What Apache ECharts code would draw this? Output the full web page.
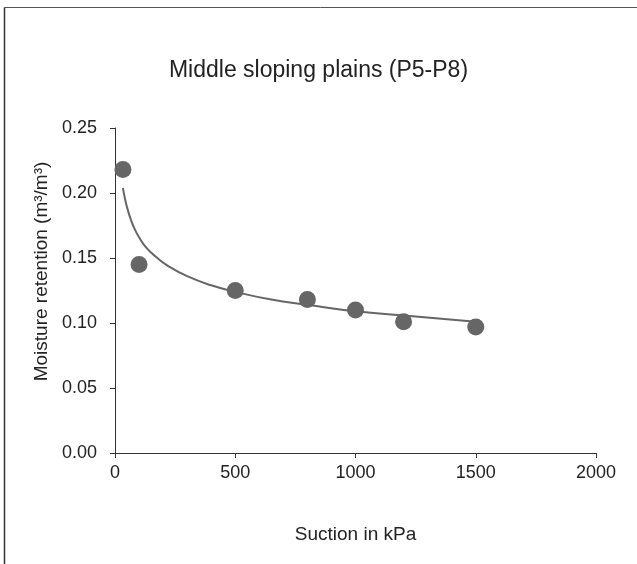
<!DOCTYPE html>
<html>
<head>
<meta charset="utf-8">
<script src="https://cdn.jsdelivr.net/npm/echarts@6/dist/echarts.min.js"></script>
<style>
  html, body { margin: 0; padding: 0; background: #fff; }
  #chart { width: 637px; height: 564px; }
</style>
</head>
<body>
<div id="chart"></div>
<script>
// measured points (suction kPa, moisture m3/m3)
var suction = [33, 100, 500, 800, 1000, 1200, 1500];
var moisture = [0.218, 0.145, 0.125, 0.118, 0.110, 0.101, 0.097];

// fitted curve
var curveX = [33, 40, 50, 65, 80, 100, 130, 170, 220, 300, 400, 500, 650, 800, 1000, 1250, 1500];
var curveY = [0.204, 0.197, 0.189, 0.180, 0.173, 0.166, 0.158, 0.151, 0.144, 0.136, 0.129, 0.124, 0.118, 0.114, 0.109, 0.105, 0.101];

var xTicks = [0, 500, 1000, 1500, 2000];
var yTicks = [0, 0.05, 0.10, 0.15, 0.20, 0.25];

var font = 'Liberation Sans, Arial, sans-serif';
var axisCol = '#333';
var markCol = '#666';

var chart = echarts.init(document.getElementById('chart'));

var pts = suction.map(function (x, i) { return [x, moisture[i]]; });
var curve = curveX.map(function (x, i) { return [x, curveY[i]]; });

chart.setOption({
  animation: false,
  title: {
    text: 'Middle sloping plains (P5-P8)',
    left: 'center',
    top: 54,
    textStyle: { fontFamily: font, fontSize: 23, fontWeight: 'normal', color: '#222' }
  },
  // frame: only top and left edges show in the picture
  graphic: [
    { type: 'line', shape: { x1: 4.5, y1: 7.5, x2: 637, y2: 7.5 }, style: { stroke: '#555', lineWidth: 1 } },
    { type: 'line', shape: { x1: 4.5, y1: 7.5, x2: 4.5, y2: 564 }, style: { stroke: '#333', lineWidth: 1.5 } }
  ],
  grid: { left: 115, right: 41, top: 128, bottom: 111 },
  xAxis: {
    type: 'value',
    min: xTicks[0],
    max: xTicks[xTicks.length - 1],
    interval: 500,
    name: 'Suction in kPa',
    nameLocation: 'middle',
    nameGap: 72,
    nameTextStyle: { fontFamily: font, fontSize: 19, color: '#222' },
    axisLine: { lineStyle: { color: axisCol, width: 1 } },
    axisTick: { length: 5, lineStyle: { color: axisCol } },
    axisLabel: {
      fontFamily: font, fontSize: 18, color: '#222', margin: 11,
      formatter: function (v) { return String(v); }
    },
    splitLine: { show: false }
  },
  yAxis: {
    type: 'value',
    min: yTicks[0],
    max: yTicks[yTicks.length - 1],
    interval: 0.05,
    name: 'Moisture retention (m\u00b3/m\u00b3)',
    nameLocation: 'middle',
    nameGap: 62,
    nameTextStyle: { fontFamily: font, fontSize: 19, color: '#222', padding: [0, 0, 0, 38] },
    axisLine: { show: true, lineStyle: { color: axisCol, width: 1 } },
    axisTick: { show: true, length: 5, lineStyle: { color: axisCol } },
    axisLabel: {
      fontFamily: font, fontSize: 18, color: '#222', margin: 18,
      formatter: function (v) { return v.toFixed(2); }
    },
    splitLine: { show: false }
  },
  series: [
    {
      type: 'line',
      data: curve,
      smooth: true,
      showSymbol: false,
      lineStyle: { color: markCol, width: 2 },
      z: 2
    },
    {
      type: 'scatter',
      data: pts,
      symbolSize: 17,
      itemStyle: { color: markCol, opacity: 1 },
      z: 3
    }
  ]
});
</script>
</body>
</html>
